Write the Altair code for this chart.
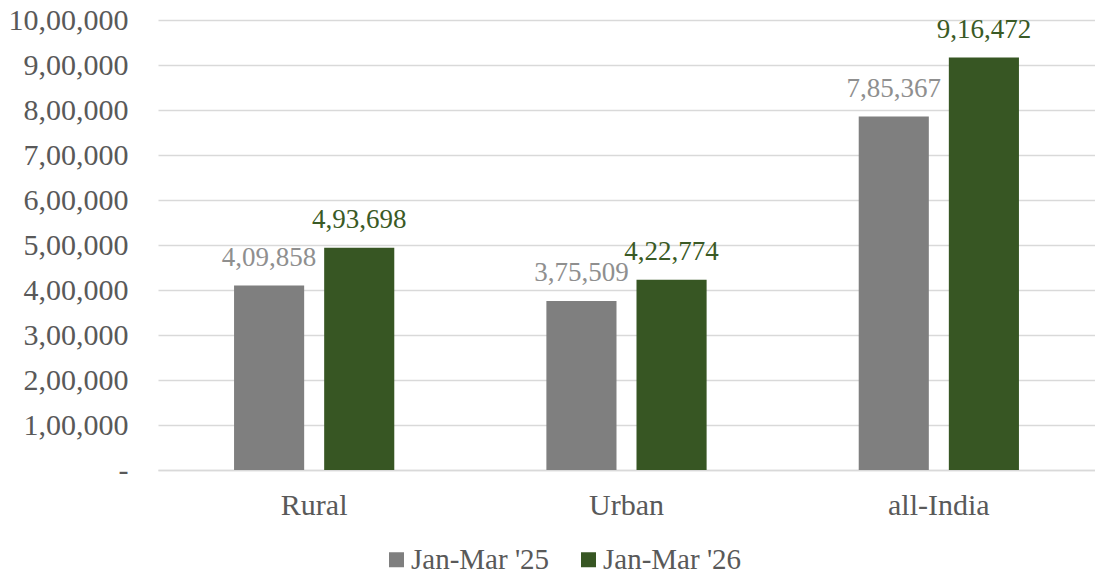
import altair as alt
import pandas as pd

categories = ["Rural", "Urban", "all-India"]
series = ["Jan-Mar '25", "Jan-Mar '26"]
values_25 = [409858, 375509, 785367]
values_26 = [493698, 422774, 916472]

rows = []
for i, c in enumerate(categories):
    rows.append({"region": c, "period": series[0], "value": values_25[i]})
    rows.append({"region": c, "period": series[1], "value": values_26[i]})
df = pd.DataFrame(rows)

FONT = "Liberation Serif"
FS_AXIS = 30
FS_LAB = 27
FS_LEG = 29
indian = ("format(floor(V/100000),'d') + ',' + format(floor((V%100000)/1000),'02d') + ',' + format(V%1000,'03d')")

x = alt.X("region:N", sort=categories, title=None,
          scale=alt.Scale(paddingInner=0.487, paddingOuter=0.2435),
          axis=alt.Axis(labelAngle=0, ticks=False, domain=True, domainColor="#d9d9d9",
                        domainWidth=1.3, labelPadding=20, labelFont=FONT,
                        labelFontSize=FS_AXIS, labelColor="#595959", grid=False))
xo = alt.XOffset("period:N", sort=series, scale=alt.Scale(paddingInner=0.222, paddingOuter=0))
color = alt.Color("period:N", sort=series,
                  scale=alt.Scale(domain=series, range=["#7f7f7f", "#375623"]),
                  legend=alt.Legend(title=None, orient="none", direction="horizontal",
                                    legendX=224, legendY=525, symbolType="square",
                                    symbolSize=225, symbolStrokeWidth=0, labelFont=FONT,
                                    labelFontSize=FS_LEG, labelColor="#595959", labelOffset=0,
                                    columnPadding=24))

base = alt.Chart(df)
bars = base.mark_bar().encode(
    x=x, xOffset=xo,
    y=alt.Y("value:Q", title=None,
            scale=alt.Scale(domain=[0, 1000000], nice=False),
            axis=alt.Axis(values=list(range(0, 1000001, 100000)), ticks=False, domain=False,
                          gridColor="#d9d9d9", gridWidth=1.3, labelPadding=30,
                          labelFont=FONT, labelFontSize=FS_AXIS, labelColor="#595959",
                          labelExpr="datum.value == 0 ? '-' : " + indian.replace("V", "datum.value"))),
    color=color,
)
labels = base.transform_calculate(
    label=indian.replace("V", "datum.value")
).mark_text(baseline="bottom", dy=-14, font=FONT, fontSize=FS_LAB).encode(
    x=x, xOffset=xo, y=alt.Y("value:Q"), text="label:N",
    color=alt.Color("period:N", sort=series,
                    scale=alt.Scale(domain=series, range=["#8f8f8f", "#3a5a25"]), legend=None),
)

chart = alt.layer(bars, labels).resolve_scale(color="independent").properties(
    width=937, height=450,
    autosize=alt.AutoSizeParams(type="none"),
    padding={"left": 150, "top": 12, "right": 0, "bottom": 100},
).configure_view(stroke=None)

chart.save("out.html", embed_options={"renderer": "svg", "actions": False})
